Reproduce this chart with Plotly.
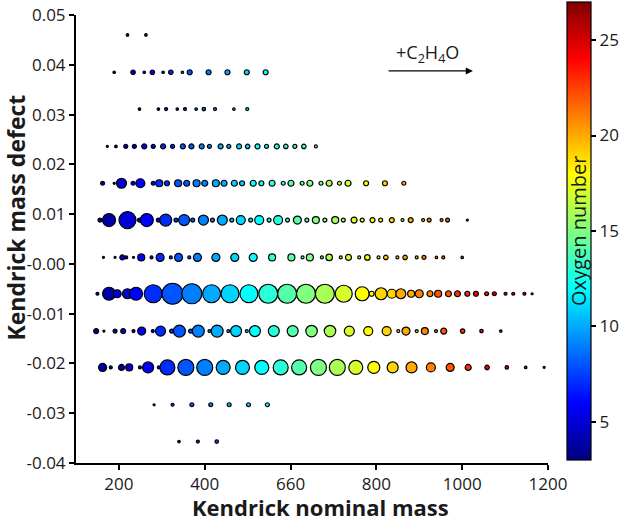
import plotly.graph_objects as go

# ---------------- data ----------------
row_kmd = [0.046, 0.0385, 0.0311, 0.0236, 0.0162, 0.0088, 0.0013,
           -0.0060, -0.0135, -0.0208, -0.0283, -0.0357]

r1_mass = [220, 263]
r1_oxy = [5, 6]
r1_size = [2.5, 2.5]

r2_mass = [189, 233, 259, 278, 303, 321, 348, 365, 409, 453, 498, 542]
r2_oxy = [4, 5, 6, 6, 7, 7, 8, 8, 9, 10, 11, 12]
r2_size = [2.5, 4.5, 2.5, 4.5, 2.5, 4.5, 2.5, 5, 5, 5, 5, 5]

r3_mass = [248, 292, 310, 336, 354, 380, 398, 424, 468, 499]
r3_oxy = [5, 6, 6, 7, 7, 8, 8, 9, 10, 11]
r3_size = [2.5, 2.5, 3, 2.5, 3, 2.5, 3.5, 3, 2.5, 3]

r4_mass = [173, 193, 216, 236, 259, 280, 303, 325, 349, 369, 393, 411,
           437, 456, 480, 500, 523, 544, 568, 589, 610, 631, 659]
r4_oxy = [4, 4, 5, 5, 6, 6, 7, 7, 8, 8, 9, 9, 10, 10, 11, 11, 12, 12,
          13, 13, 14, 14, 15]
r4_size = [2, 2.5, 4, 4, 5, 4, 5, 4, 5, 5, 5, 4, 5, 4, 5, 4.5, 5, 4,
           5, 4.5, 4, 4.5, 3]

r5_mass = [162, 189, 206, 233, 250, 280, 294, 312, 338, 358, 381, 400,
           426, 445, 469, 487, 513, 532, 557, 583, 601, 627, 645, 671,
           690, 714, 734, 776, 820, 864]
r5_oxy = [4, 4, 5, 5, 6, 6, 7, 7, 8, 8, 9, 9, 10, 10, 11, 11, 12, 12,
          13, 13, 14, 14, 15, 15, 16, 16, 17, 18, 19, 20]
r5_size = [4, 2, 10, 4, 9, 4, 7, 5, 7, 6, 7, 6, 7, 6, 6, 5, 6, 5, 6, 4,
           6, 4, 6, 4, 6, 4, 6, 5, 5, 4]

r6_mass = [156, 177, 220, 248, 265, 292, 309, 333, 352, 372, 397, 418,
           441, 463, 484, 507, 527, 550, 571, 593, 616, 638, 659, 680,
           704, 723, 748, 767, 791, 810, 836, 861, 880, 909, 923, 952,
           966, 1012]
r6_oxy = [4, 4, 5, 5, 6, 6, 7, 7, 8, 8, 9, 9, 10, 10, 11, 11, 12, 12,
          13, 13, 14, 14, 15, 15, 16, 16, 17, 17, 18, 18, 19, 19, 20, 20,
          21, 21, 22, 23]
r6_size = [4, 13, 17, 4, 13, 4, 12, 4, 11, 4, 10, 4, 10, 4, 9, 4, 9, 4,
           9, 4, 8, 4, 7, 4, 7, 4, 6, 4, 5, 4, 5, 3, 5, 3, 4, 3, 4, 2]

r7_mass = [164, 191, 208, 217, 234, 252, 276, 296, 321, 339, 364, 383,
           426, 470, 513, 557, 602, 628, 645, 673, 690, 717, 735, 760,
           779, 805, 822, 849, 867, 894, 911, 940, 956, 1000]
r7_oxy = [4, 4, 5, 5, 5, 6, 6, 7, 7, 8, 8, 9, 10, 11, 12, 13, 14, 14,
          15, 15, 16, 16, 17, 17, 18, 18, 19, 19, 20, 20, 21, 21, 22, 23]
r7_size = [2, 2, 5, 3, 2, 7, 3, 8, 3, 8, 3, 8, 8, 8, 8, 7, 7, 3, 7, 3,
           6.5, 3, 6, 3, 5.5, 3, 4.5, 3, 4.5, 3, 4, 2.5, 3, 2.5]

r8_mass = [150, 177, 196, 220, 240, 280, 325, 370, 416, 459, 503, 548,
           592, 636, 680, 724, 767, 789, 811, 836, 857, 881, 900, 925,
           944, 968, 989, 1012, 1032, 1057, 1075, 1101, 1119, 1145, 1163]
r8_oxy = [4, 4, 5, 5, 6, 7, 8, 9, 10, 11, 12, 13, 14, 15, 16, 17, 18, 18,
          19, 19, 20, 20, 21, 21, 22, 22, 23, 23, 24, 24, 25, 25, 26, 26, 27]
r8_size = [3, 13, 8, 10, 13, 18, 21, 20, 18, 18, 18, 19, 19, 19, 19, 17,
           14, 5, 12, 9, 10, 7, 8, 6, 7, 6, 6, 5, 5, 4, 4, 3, 3, 3, 2]

r9_mass = [147, 165, 191, 210, 234, 253, 279, 297, 323, 341, 367, 385,
           411, 429, 455, 473, 498, 517, 561, 605, 649, 692, 737, 781,
           824, 851, 869, 894, 913, 939, 957, 1001, 1045, 1090]
r9_oxy = [4, 4, 4, 5, 5, 6, 6, 7, 7, 8, 8, 9, 9, 10, 10, 11, 11, 12, 13,
          14, 15, 16, 17, 18, 19, 19, 20, 20, 21, 21, 22, 23, 24, 25]
r9_size = [5, 2, 4, 5, 3, 8, 3, 10, 4, 12, 4, 12, 3, 12, 3, 11, 3, 11,
           11, 11, 11.5, 11.5, 10, 9, 9, 3, 8, 3, 7, 3, 6, 4.5, 3.5, 2.5]

r10_mass = [162, 181, 206, 224, 249, 268, 293, 313, 356, 400, 443, 488,
            533, 577, 620, 665, 709, 752, 794, 838, 882, 927, 972, 1014,
            1058, 1104, 1148, 1191]
r10_oxy = [4, 4, 4, 5, 5, 6, 6, 7, 8, 9, 10, 11, 12, 13, 14, 15, 16, 17,
           18, 19, 20, 21, 22, 23, 24, 25, 26, 27]
r10_size = [8, 3, 6, 7, 3, 11, 3, 15, 16, 16, 14, 14, 14, 15, 15, 16, 16,
            14, 12, 11, 11, 9, 8, 6, 4.5, 3.5, 2.5, 2]

r11_mass = [282, 325, 370, 414, 457, 502, 546]
r11_oxy = [6, 7, 8, 9, 10, 11, 12]
r11_size = [2, 3, 4, 4, 4, 4, 4]

r12_mass = [340, 384, 428]
r12_oxy = [6, 7, 8]
r12_size = [2.5, 3, 3.5]

x_tickvals = [200, 400, 600, 800, 1000, 1200]
x_ticktext = ["200", "400", "660", "800", "1000", "1200"]
y_tickvals = [0.05, 0.04, 0.03, 0.02, 0.01, 0.0, -0.01, -0.02, -0.03, -0.04]
y_ticktext = ["0.05", "0.04", "0.03", "0.02", "0.01", "-0.00", "-0.01",
              "-0.02", "-0.03", "-0.04"]
cbar_ticks = [5, 10, 15, 20, 25]

# ---------------- figure ----------------
rows = [
    (r1_mass, r1_oxy, r1_size), (r2_mass, r2_oxy, r2_size),
    (r3_mass, r3_oxy, r3_size), (r4_mass, r4_oxy, r4_size),
    (r5_mass, r5_oxy, r5_size), (r6_mass, r6_oxy, r6_size),
    (r7_mass, r7_oxy, r7_size), (r8_mass, r8_oxy, r8_size),
    (r9_mass, r9_oxy, r9_size), (r10_mass, r10_oxy, r10_size),
    (r11_mass, r11_oxy, r11_size), (r12_mass, r12_oxy, r12_size),
]

jet = [[0.0, "rgb(0,0,128)"], [0.125, "rgb(0,0,255)"],
       [0.375, "rgb(0,255,255)"], [0.625, "rgb(255,255,0)"],
       [0.875, "rgb(255,0,0)"], [1.0, "rgb(128,0,0)"]]

FONT = "Open Sans"
TXT = "#1a1a1a"
fig = go.Figure()
for kmd, (m, o, s) in zip(row_kmd, rows):
    fig.add_trace(go.Scatter(
        x=m, y=[kmd] * len(m), mode="markers",
        marker=dict(size=s, color=o, coloraxis="coloraxis",
                    line=dict(color="black", width=1.2), opacity=1),
        showlegend=False, hoverinfo="skip"))

fig.update_layout(
    width=622, height=519,
    margin=dict(l=76, r=74, t=15, b=56, autoexpand=False),
    paper_bgcolor="white", plot_bgcolor="white",
    font=dict(family=FONT, color=TXT),
    coloraxis=dict(
        colorscale=jet, cmin=3, cmax=27,
        colorbar=dict(
            thickness=24, thicknessmode="pixels",
            len=458, lenmode="pixels",
            x=1.04, xanchor="left", xpad=0, ypad=0,
            y=0.518, yanchor="middle",
            outlinewidth=1.2, outlinecolor="black",
            ticks="outside", ticklen=5, tickwidth=1.5, tickcolor="black",
            tickvals=cbar_ticks, tickfont=dict(size=17, family=FONT, color=TXT),
        ),
    ),
)
fig.update_xaxes(range=[100, 1200], showgrid=False, zeroline=False,
                 showline=True, linecolor="black", linewidth=2,
                 ticks="outside", ticklen=5, tickwidth=1.5, tickcolor="black",
                 tickvals=x_tickvals, ticktext=x_ticktext,
                 tickfont=dict(size=17, family=FONT, color=TXT))
fig.update_yaxes(range=[-0.04, 0.05], showgrid=False, zeroline=False,
                 showline=True, linecolor="black", linewidth=2,
                 ticks="outside", ticklen=5, tickwidth=1.5, tickcolor="black",
                 tickvals=y_tickvals, ticktext=y_ticktext,
                 tickfont=dict(size=17, family=FONT, color=TXT))

# axis titles and colorbar title
fig.add_annotation(text="<b>Kendrick nominal mass</b>", xref="paper", yref="paper",
                   x=0.517, y=-0.099, xanchor="center", yanchor="middle",
                   showarrow=False, font=dict(size=22, family=FONT, color=TXT))
fig.add_annotation(text="<b>Kendrick mass defect</b>", xref="paper", yref="paper",
                   x=-0.128, y=0.547, xanchor="center", yanchor="middle",
                   textangle=-90, showarrow=False,
                   font=dict(size=23, family=FONT, color=TXT))
fig.add_annotation(text="Oxygen number", xref="paper", yref="paper",
                   x=1.0657, y=0.518, xanchor="center", yanchor="middle",
                   textangle=-90, showarrow=False,
                   font=dict(size=20, family=FONT, color=TXT))

# +C2H4O arrow
fig.add_annotation(text="", x=1025, y=0.03876, ax=825, ay=0.03876,
                   xref="x", yref="y", axref="x", ayref="y",
                   showarrow=True, arrowhead=2, arrowsize=1.1, arrowwidth=1.3,
                   arrowcolor="black")
fig.add_annotation(text="+C<sub>2</sub>H<sub>4</sub>O", xref="paper", yref="paper",
                   x=0.744, y=0.913, xanchor="center", yanchor="middle",
                   showarrow=False, font=dict(size=18, family=FONT, color=TXT))

fig.write_html("out.html")
